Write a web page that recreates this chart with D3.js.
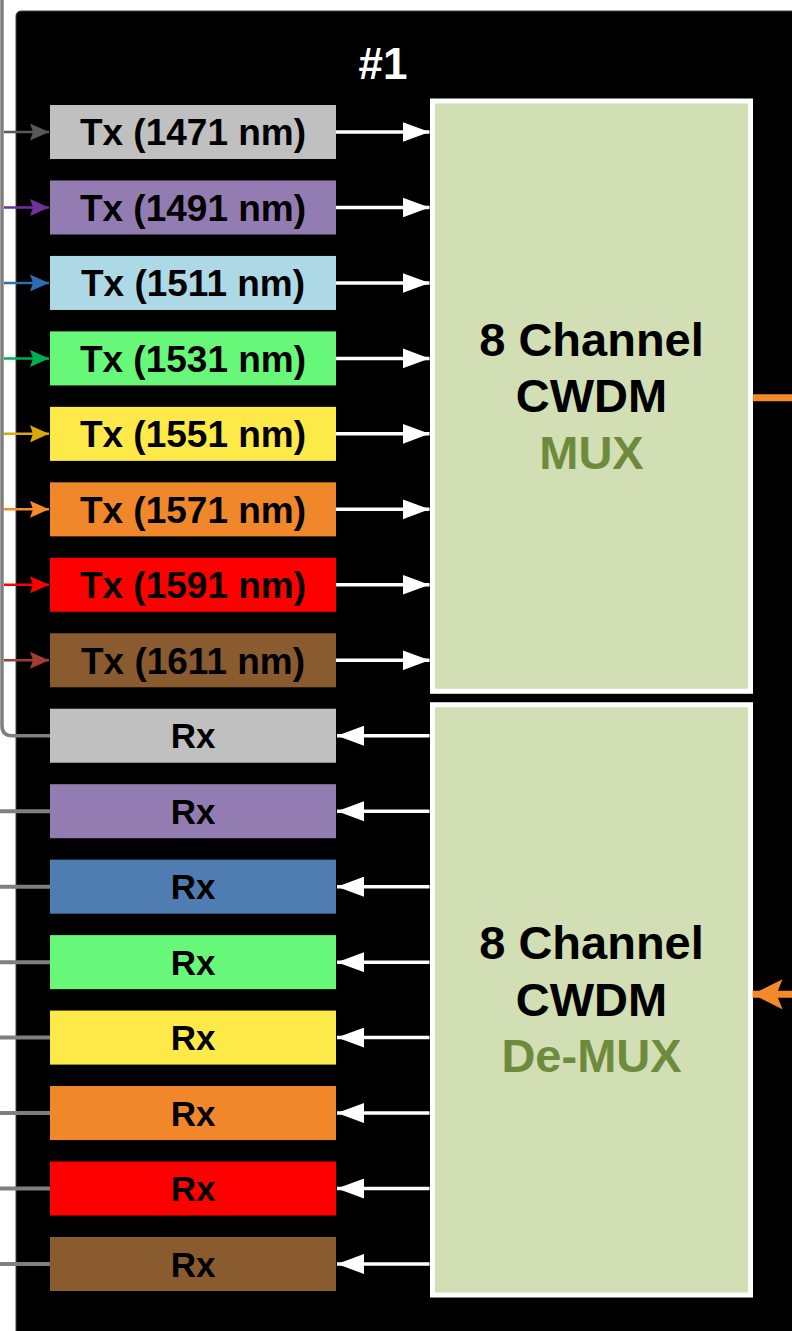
<!DOCTYPE html>
<html>
<head>
<meta charset="utf-8">
<script src="https://cdn.jsdelivr.net/npm/d3@7"></script>
<style>
  html, body { margin: 0; padding: 0; background: #fff; }
  svg { display: block; }
  text { font-family: "Liberation Sans", Arial, sans-serif; font-weight: bold; }
</style>
</head>
<body>
<svg id="chart" width="792" height="1331"></svg>
<script>
// Kanal-Daten
const txLabels = ["Tx (1471 nm)", "Tx (1491 nm)", "Tx (1511 nm)", "Tx (1531 nm)",
                  "Tx (1551 nm)", "Tx (1571 nm)", "Tx (1591 nm)", "Tx (1611 nm)"];
const txColors = ["#c0c0c0", "#927cb1", "#add9e6", "#67f87a", "#fde948", "#f0882b", "#ff0000", "#8a5b2f"];
const txFeedColors = ["#595959", "#7030a0", "#2e6db6", "#00b050", "#dba80b", "#f58a2a", "#ff0000", "#a33c35"];
const rxLabels = ["Rx", "Rx", "Rx", "Rx", "Rx", "Rx", "Rx", "Rx"];
const rxColors = ["#c0c0c0", "#927cb1", "#4f7db1", "#67f87a", "#fde948", "#f0882b", "#ff0000", "#8a5b2f"];
const muxLines = ["8 Channel", "CWDM", "MUX"];
const demuxLines = ["8 Channel", "CWDM", "De-MUX"];
const title = "#1";

const svg = d3.select('#chart');

const rows = txLabels.map((t, i) => ({ id: 'tx' + i, typ: 'tx', label: t, fill: txColors[i], feed: txFeedColors[i] }))
  .concat(rxLabels.map((t, i) => ({ id: 'rx' + i, typ: 'rx', label: t, fill: rxColors[i], feed: '#7f7f7f' })));

const y = d3.scaleBand()
  .domain(rows.map(d => d.id))
  .range([105, 1291])
  .paddingInner(0.284)
  .paddingOuter(0);

const boxX0 = 50, boxX1 = 336;
const muxX0 = 432.5, muxX1 = 750.5;
const mid = d => y(d.id) + y.bandwidth() / 2;

// Pfeilspitzen
const defs = svg.append('defs');
function marker(id, color, len, half, notch, dir) {
  const m = defs.append('marker')
    .attr('id', id)
    .attr('markerUnits', 'userSpaceOnUse')
    .attr('viewBox', `${-len} ${-half} ${len} ${half * 2}`)
    .attr('markerWidth', len)
    .attr('markerHeight', half * 2)
    .attr('refX', 0).attr('refY', 0)
    .attr('orient', dir);
  m.append('path')
    .attr('d', `M${-len},${-half} L0,0 L${-len},${half} L${-len + notch},0 Z`)
    .attr('fill', color);
}
marker('weiss', '#fff', 27, 10, 0, 'auto');
txFeedColors.forEach((c, i) => marker('feed' + i, c, 19, 8.5, 3, 'auto'));
marker('orange', '#f28a2c', 30, 15, 6, 'auto');

// Hintergrund
svg.append('rect')
  .attr('x', 16).attr('y', 11)
  .attr('width', 820).attr('height', 1400)
  .attr('rx', 5)
  .attr('fill', '#000')
  .attr('stroke', '#444').attr('stroke-width', 1);

// Rückführung (grau)
const rx0 = rows.find(d => d.id === 'rx0');
svg.append('path')
  .attr('d', `M2,-5 V${mid(rx0) - 10} Q2,${mid(rx0)} 12,${mid(rx0)} H${boxX0}`)
  .attr('fill', 'none')
  .attr('stroke', '#7f7f7f')
  .attr('stroke-width', 3.5)
  .attr('stroke-linecap', 'round');

// Zuleitungen links
rows.forEach((d, i) => {
  if (d.typ === 'tx') {
    svg.append('line')
      .attr('x1', 4).attr('x2', boxX0 - 1)
      .attr('y1', mid(d)).attr('y2', mid(d))
      .attr('stroke', d.feed).attr('stroke-width', 2.5)
      .attr('marker-end', `url(#feed${i})`);
  } else if (d.id !== 'rx0') {
    svg.append('line')
      .attr('x1', 0).attr('x2', boxX0)
      .attr('y1', mid(d)).attr('y2', mid(d))
      .attr('stroke', '#7f7f7f').attr('stroke-width', 4)
      .attr('stroke-linecap', 'round');
  }
});

// Kanal-Boxen
const g = svg.selectAll('.kanal').data(rows, d => d.id)
  .join('g').attr('class', 'kanal');

g.append('rect')
  .attr('x', boxX0).attr('y', d => y(d.id))
  .attr('width', boxX1 - boxX0).attr('height', y.bandwidth())
  .attr('fill', d => d.fill);

g.append('text')
  .attr('x', (boxX0 + boxX1) / 2)
  .attr('y', d => mid(d))
  .attr('dy', '0.36em')
  .attr('text-anchor', 'middle')
  .attr('font-size', d => d.typ === 'tx' ? 37 : 35)
  .attr('fill', '#000')
  .text(d => d.label);

// Weiße Pfeile
g.append('line')
  .attr('x1', d => d.typ === 'tx' ? boxX1 : muxX0 - 3)
  .attr('x2', d => d.typ === 'tx' ? muxX0 - 3 : boxX1 + 1)
  .attr('y1', d => mid(d)).attr('y2', d => mid(d))
  .attr('stroke', '#fff').attr('stroke-width', 3.5)
  .attr('marker-end', 'url(#weiss)');

// MUX / De-MUX
const blocks = [
  { ids: ['tx0', 'tx7'], lines: muxLines },
  { ids: ['rx0', 'rx7'], lines: demuxLines }
];
blocks.forEach(b => {
  const top = y(b.ids[0]) - 4;
  const bot = y(b.ids[1]) + y.bandwidth() + 4;
  svg.append('rect')
    .attr('x', muxX0).attr('y', top)
    .attr('width', muxX1 - muxX0).attr('height', bot - top)
    .attr('fill', '#d2dfb5')
    .attr('stroke', '#fff').attr('stroke-width', 5);
  const cy = (top + bot) / 2;
  svg.append('g').selectAll('text').data(b.lines).join('text')
    .attr('x', (muxX0 + muxX1) / 2)
    .attr('y', (d, i) => cy + 16 + (i - 1) * 56.5)
    .attr('text-anchor', 'middle')
    .attr('font-size', 47)
    .attr('fill', (d, i) => i === 2 ? '#6e8b3d' : '#000')
    .text(d => d);
});

// Glasfaser rechts
const muxMid = (y('tx0') + y('tx7') + y.bandwidth()) / 2;
const demuxMid = (y('rx0') + y('rx7') + y.bandwidth()) / 2;
svg.append('line')
  .attr('x1', muxX1 + 2.5).attr('x2', 800)
  .attr('y1', muxMid + 1.5).attr('y2', muxMid + 1.5)
  .attr('stroke', '#f28a2c').attr('stroke-width', 7);
svg.append('line')
  .attr('x1', 800).attr('x2', muxX1 + 2)
  .attr('y1', demuxMid - 5.5).attr('y2', demuxMid - 5.5)
  .attr('stroke', '#f28a2c').attr('stroke-width', 7)
  .attr('marker-end', 'url(#orange)');

// Titel
svg.append('text')
  .attr('x', 383).attr('y', 79)
  .attr('text-anchor', 'middle')
  .attr('font-size', 44)
  .attr('fill', '#fff')
  .text(title);
</script>
</body>
</html>
